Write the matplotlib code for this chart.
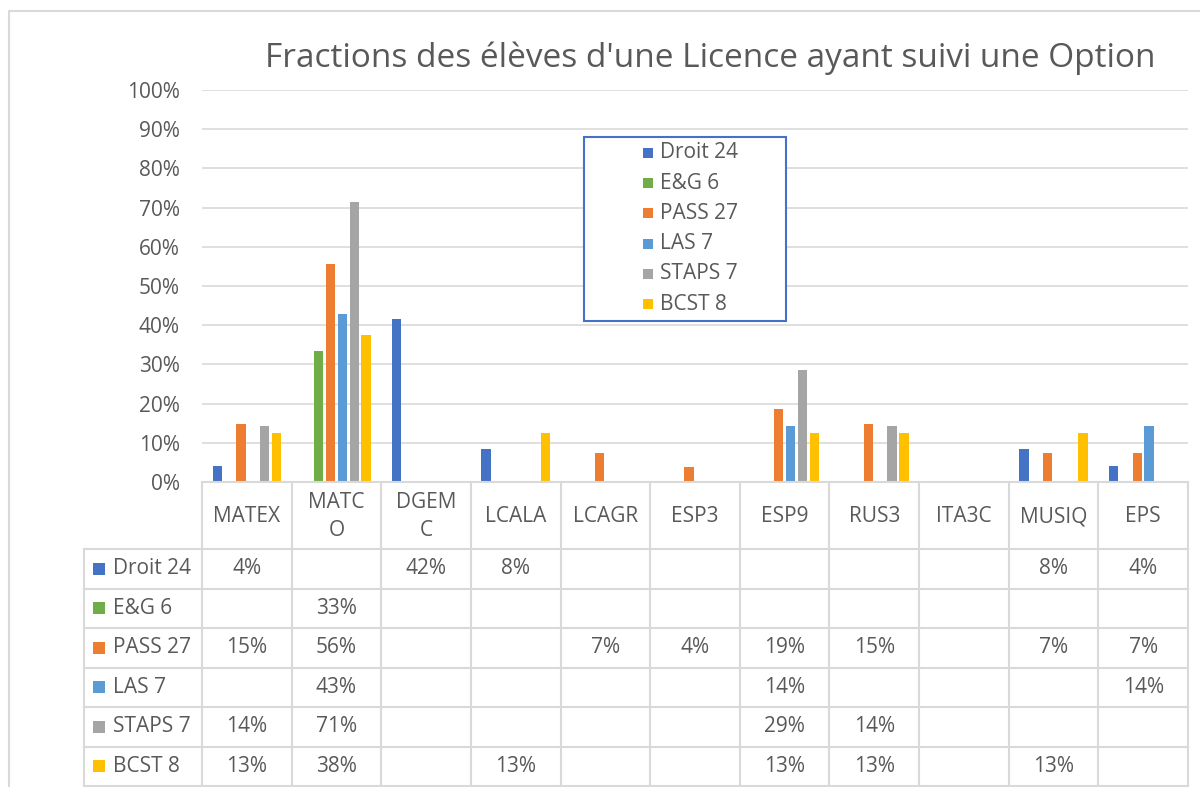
import matplotlib.pyplot as plt
import numpy as np
from matplotlib.patches import Rectangle

#------------------DATA------------------#

categories = ["MATEX", "MATC\nO", "DGEM\nC", "LCALA", "LCAGR", "ESP3", "ESP9", "RUS3", "ITA3C", "MUSIQ", "EPS"]
series = ["Droit 24", "E&G 6", "PASS 27", "LAS 7", "STAPS 7", "BCST 8"]
colors = ["#4472C4", "#70AD47", "#ED7D31", "#5B9BD5", "#A5A5A5", "#FFC000"]

nan = np.nan
droit = [0.0417, nan, 0.4167, 0.0833, nan, nan, nan, nan, nan, 0.0833, 0.0417]
eg = [nan, 0.3333, nan, nan, nan, nan, nan, nan, nan, nan, nan]
pass27 = [0.1481, 0.5556, nan, nan, 0.0741, 0.0370, 0.1852, 0.1481, nan, 0.0741, 0.0741]
las = [nan, 0.4286, nan, nan, nan, nan, 0.1429, nan, nan, nan, 0.1429]
staps = [0.1429, 0.7143, nan, nan, nan, nan, 0.2857, 0.1429, nan, nan, nan]
bcst = [0.125, 0.375, nan, 0.125, nan, nan, 0.125, 0.125, nan, 0.125, nan]
values = [droit, eg, pass27, las, staps, bcst]

title = "Fractions des élèves d'une Licence ayant suivi une Option"

#------------------LAYOUT (pixels)------------------#

W, H = 1200, 787
px_left, px_right = 202, 1188
px_top, px_zero = 90, 482
key_left = 84
header_bottom = 549
row_h = 39.5
txt = "#595959"
line = "#D9D9D9"
fs = 15

plt.rcParams['font.family'] = ['Open Sans', 'DejaVu Sans']

fig = plt.figure(figsize=(W / 100, H / 100), dpi=100)

ax = fig.add_axes([px_left / W, 1 - px_zero / H, (px_right - px_left) / W, (px_zero - px_top) / H])
n = len(categories)
x = np.arange(n)
slot = 0.132
for i, (s, vals) in enumerate(zip(series, values)):
    ax.bar(x + (i - 2.5) * slot, np.nan_to_num(vals), width=0.104, color=colors[i], zorder=3)

ax.set_xlim(-0.5, n - 0.5)
ax.set_ylim(0, 1)
ax.set_yticks(np.arange(0, 1.01, 0.1))
ax.set_yticklabels(["%d%%" % round(v * 100) for v in np.arange(0, 1.01, 0.1)])
ax.tick_params(axis='y', length=0, pad=16, labelsize=fs, labelcolor=txt)
ax.set_xticks([])
ax.yaxis.grid(True, color=line, lw=1.2, zorder=0)
for sp in ax.spines.values():
    sp.set_visible(False)

#------------------OVERLAY: title, legend, data table------------------#

ov = fig.add_axes([0, 0, 1, 1], facecolor='none')
ov.set_xlim(0, W)
ov.set_ylim(H, 0)
ov.axis('off')

# chart border
ov.plot([9, 9, W], [H, 11, 11], color=line, lw=1.5)

ov.text(710, 58, title, ha='center', va='center', fontsize=24, color=txt)

# legend box
ov.add_patch(Rectangle((584, 137), 202, 184, facecolor='white', edgecolor='#4472C4', lw=1.5, zorder=5))
for i, s in enumerate(series):
    yy = 153 + i * 30.2
    ov.add_patch(Rectangle((643, yy - 5), 10, 10, facecolor=colors[i], edgecolor='none', zorder=6))
    ov.text(660, yy, s, ha='left', va='center', fontsize=fs, color=txt, zorder=6)

# table grid
colw = (px_right - px_left) / n
bottom = header_bottom + row_h * len(series)
ov.plot([px_left, px_right], [px_zero, px_zero], color=line, lw=1.5)
for r in range(len(series) + 1):
    yy = header_bottom + r * row_h
    ov.plot([key_left, px_right], [yy, yy], color=line, lw=1.5)
ov.plot([key_left, key_left], [header_bottom, bottom], color=line, lw=1.5)
for c in range(n + 1):
    xx = px_left + c * colw
    ov.plot([xx, xx], [px_zero, bottom], color=line, lw=1.5)

# header labels
for c, cat in enumerate(categories):
    ov.text(px_left + (c + 0.5) * colw, (px_zero + header_bottom) / 2 + 1, cat, ha='center', va='center',
            fontsize=fs, color=txt, linespacing=1.45)

# rows
for r, (s, vals) in enumerate(zip(series, values)):
    yc = header_bottom + (r + 0.5) * row_h
    ov.add_patch(Rectangle((93, yc - 6), 12, 12, facecolor=colors[r], edgecolor='none'))
    ov.text(113, yc, s, ha='left', va='center', fontsize=fs, color=txt)
    for c, v in enumerate(vals):
        if not np.isnan(v):
            ov.text(px_left + (c + 0.5) * colw, yc, "%d%%" % np.floor(v * 100 + 0.5),
                    ha='center', va='center', fontsize=fs, color=txt)

plt.savefig("out.png", dpi=100)
